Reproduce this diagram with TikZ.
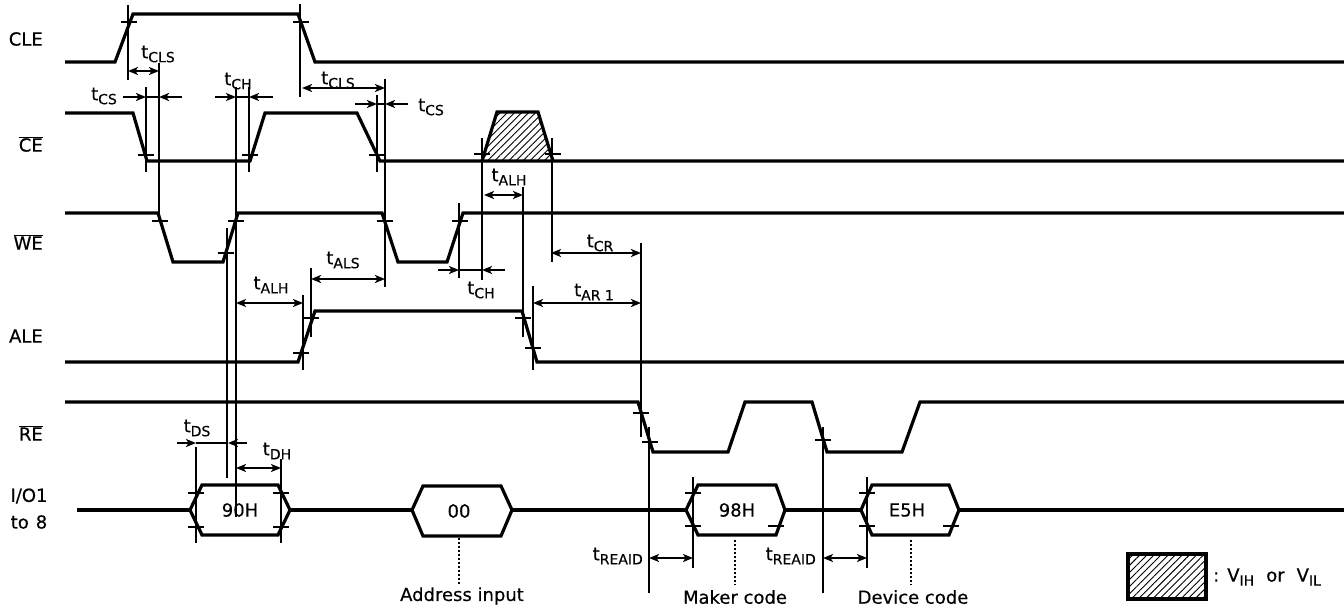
\documentclass[tikz,border=0pt]{standalone}
\usepackage{fontspec}
\setmainfont{DejaVu Sans}[FakeBold=0.4]
\usetikzlibrary{arrows.meta,patterns.meta}
\newcommand\tlab[1]{t\raisebox{-4pt}{\fontsize{14}{15}\selectfont #1}}
\newcommand\vsub[1]{V\raisebox{-4pt}{\fontsize{14}{15}\selectfont #1}}
\tikzset{
  sig/.style={line width=3.2pt},
  thinl/.style={line width=1.6pt},
  arr/.style={thinl,-{Stealth[length=10pt,width=8pt,inset=2.5pt]}},
  dbl/.style={thinl,{Stealth[length=10pt,width=8pt,inset=2.5pt]}-{Stealth[length=10pt,width=8pt,inset=2.5pt]}},
  lbl/.style={font=\fontsize{18}{21}\selectfont, inner sep=0pt},
  dotl/.style={line width=1.6pt, dash pattern=on 1.5pt off 2.5pt},
  hatch/.style={pattern={Lines[angle=45,distance=5pt,line width=0.9pt]}}
}
\begin{document}
\begin{tikzpicture}[x=1pt,y=-1pt]
\useasboundingbox (0,0) rectangle (1344,613);
% signal names
\node[lbl,anchor=east] (nCLE) at (43,39) {CLE};
\node[lbl,anchor=east] (nCE) at (43,144) {$\overline{\hbox{CE}}$};
\node[lbl,anchor=east] (nWE) at (43,242) {$\overline{\hbox{WE}}$};
\node[lbl,anchor=east] (nALE) at (43,336) {ALE};
\node[lbl,anchor=east] (nRE) at (43,433) {$\overline{\hbox{RE}}$};
\node[lbl] (nIO1) at (29,496) {I/O1};
\node[lbl] (nIO2) at (29,522) {to\hspace{7pt}8};
% hatched region on CE
\fill[hatch] (482,161)--(497,112)--(538,112)--(553,161)--cycle;
\draw[sig] (482,161)--(497,112)--(538,112)--(553,161);
% waveforms
\draw[sig] (65,62)--(115,62)--(133,14)--(298,14)--(315,62)--(1344,62);
\draw[sig] (65,113)--(133,113)--(147,161)--(250,161)--(265,113)--(357,113)--(380,161)--(1344,161);
\draw[sig] (65,213)--(158,213)--(173,262)--(223,262)--(238,213)--(382,213)--(398,262)--(447,262)--(463,213)--(1344,213);
\draw[sig] (65,362)--(298,362)--(315,311)--(522,311)--(537,362)--(1344,362);
\draw[sig] (65,402)--(638,402)--(653,452)--(728,452)--(745,402)--(812,402)--(827,452)--(902,452)--(920,402)--(1344,402);
% I/O bus
\draw[sig] (77,510)--(190,510) (290,510)--(412,510) (512,510)--(686,510) (785,510)--(861,510) (959,510)--(1344,510);
\draw[sig] (190,510)--(202,485)--(278,485)--(290,510)--(278,535)--(202,535)--cycle;
\draw[sig] (412,510)--(423,486)--(501,486)--(512,510)--(501,536)--(423,536)--cycle;
\draw[sig] (686,510)--(698,485)--(776,485)--(785,510)--(776,535)--(698,535)--cycle;
\draw[sig] (861,510)--(872,485)--(949,485)--(959,510)--(949,535)--(872,535)--cycle;
\node[lbl] (d90) at (240,510) {90H};
\node[lbl] (d00) at (459,511) {00};
\node[lbl] (d98) at (737,510) {98H};
\node[lbl] (dE5) at (907,510) {E5H};
% ticks
\foreach \x/\y in {129/21.7, 301/21.7, 146/155, 250/155, 377/155, 482/154, 553/154,
  160/221, 226/253, 236/221, 385/221, 460/221, 301/353, 311/318, 523/318, 533/348,
  641/413, 650/442, 823/440, 196/493, 196/527, 281/493, 281/527, 693/493, 693/526,
  776/526, 867/493, 867/526, 951/526}
  \draw[thinl] (\x-8,\y)--(\x+8,\y);
% vertical reference lines
\foreach \x/\ya/\yb in {128/5/80, 300/4/97, 159/63/222, 146/87/172, 249/87/172, 236/87/517,
  377/95/172, 385/79/287, 482/138/280, 552/138/262, 523/187/337, 227/228/478, 459/203/278,
  303/295/370, 311/268/337, 533/286/370, 641/243/437, 649/427/593, 823/427/593,
  196/447/543, 281/459/543, 693/477/568, 867/477/568}
  \draw[thinl] (\x,\ya)--(\x,\yb);
% timing arrows
\draw[dbl] (128,71)--(159,71);
\node[lbl] (tCLSa) at (158,54) {\tlab{CLS}};
\draw[arr] (123,97)--(146,97); \draw[thinl] (146,97)--(159,97); \draw[arr] (182,97)--(159,97);
\node[lbl] (tCSa) at (104,96) {\tlab{CS}};
\draw[arr] (215,97)--(236,97); \draw[thinl] (236,97)--(249,97); \draw[arr] (273,97)--(249,97);
\node[lbl] (tCHa) at (238,81) {\tlab{CH}};
\draw[dbl] (302,88)--(385,88);
\node[lbl] (tCLSb) at (338,80) {\tlab{CLS}};
\draw[arr] (355,104)--(377,104); \draw[thinl] (377,104)--(385,104); \draw[arr] (408,104)--(385,104);
\node[lbl] (tCSb) at (431,107) {\tlab{CS}};
\draw[dbl] (484,195)--(523,195);
\node[lbl] (tALHa) at (509,177) {\tlab{ALH}};
\draw[arr] (438,270)--(459,270); \draw[thinl] (459,270)--(482,270); \draw[arr] (505,270)--(482,270);
\node[lbl] (tCHb) at (481,290) {\tlab{CH}};
\draw[dbl] (311,279)--(385,279);
\node[lbl] (tALS) at (343,260) {\tlab{ALS}};
\draw[dbl] (236,303)--(303,303);
\node[lbl] (tALHb) at (271,285) {\tlab{ALH}};
\draw[dbl] (551,253)--(641,253);
\node[lbl] (tCR) at (600,243) {\tlab{CR}};
\draw[dbl] (533,303)--(641,303);
\node[lbl] (tAR) at (594,292) {\tlab{AR 1}};
\draw[arr] (177,443)--(196,443); \draw[thinl] (196,443)--(228,443); \draw[arr] (247,443)--(228,443);
\node[lbl] (tDS) at (197,428) {\tlab{DS}};
\draw[dbl] (236,468)--(281,468);
\node[lbl] (tDH) at (277,451) {\tlab{DH}};
\draw[dbl] (649,558)--(693,558);
\node[lbl,anchor=east] (tRa) at (643,556) {\tlab{REAID}};
\draw[dbl] (823,558)--(867,558);
\node[lbl,anchor=east] (tRb) at (816,556) {\tlab{REAID}};
% annotations
\draw[dotl] (459,538)--(459,585);
\draw[dotl] (735,540)--(735,585);
\draw[dotl] (911,540)--(911,585);
\node[lbl] (aAddr) at (462,596) {Address input};
\node[lbl] (aMaker) at (735,597) {Maker code};
\node[lbl] (aDev) at (913,597) {Device code};
% legend
\draw[sig,hatch] (1128,554) rectangle (1206,599);
\node[lbl,anchor=west] (leg) at (1213,577) {:\hspace{8pt}\vsub{IH}\hspace{12pt}or\hspace{12pt}\vsub{IL}};
\end{tikzpicture}
\end{document}
